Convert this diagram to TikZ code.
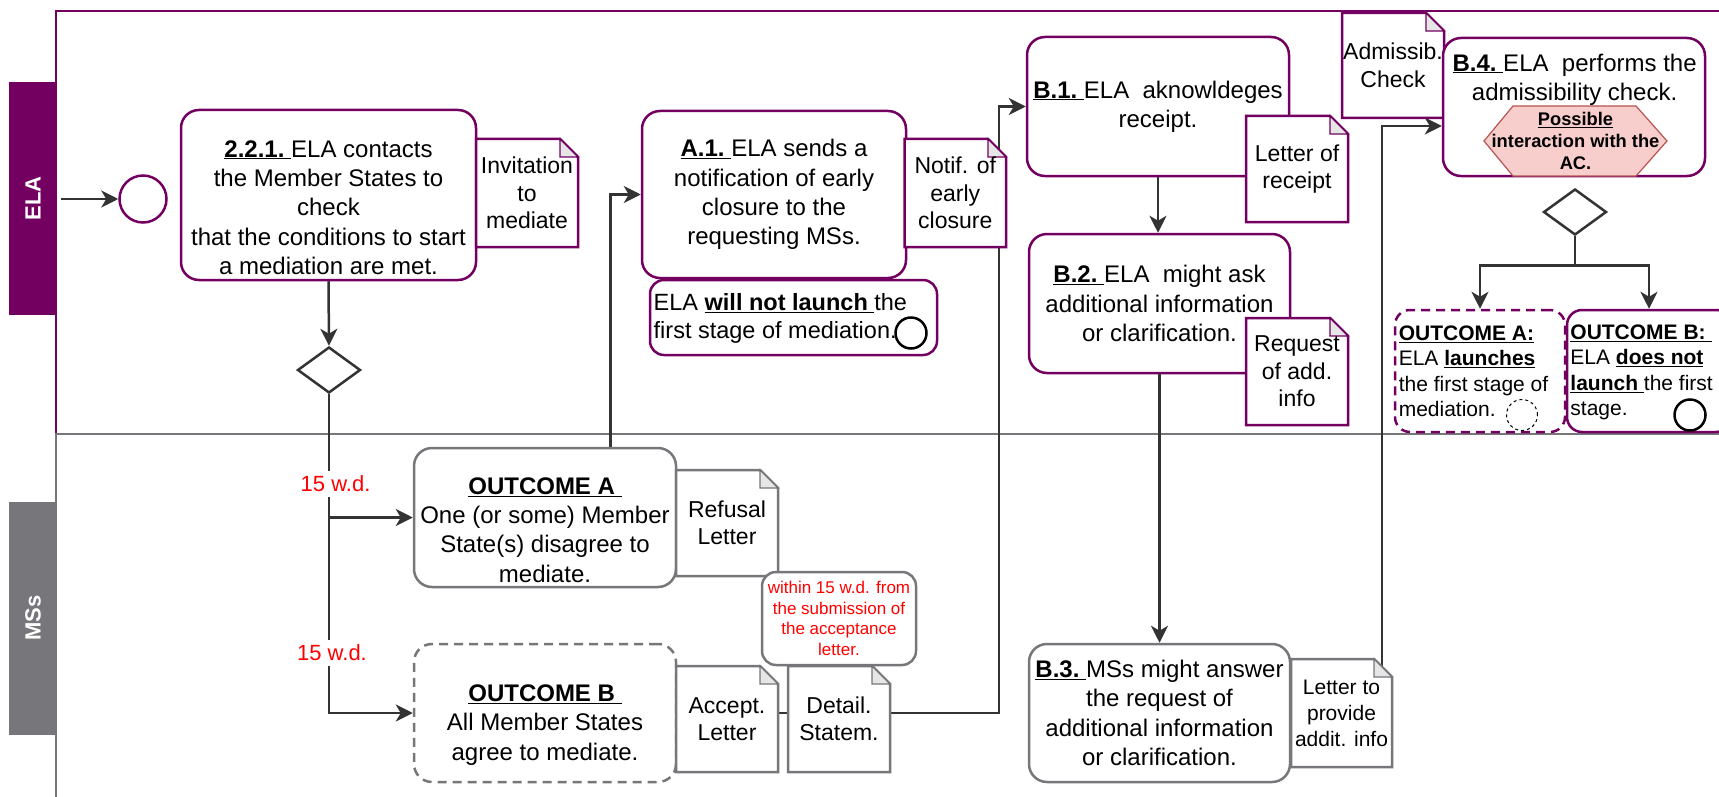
\documentclass[tikz,border=0pt]{standalone}
\usepackage{fontspec}
\setmainfont{Liberation Sans}
\usetikzlibrary{shapes.geometric,arrows.meta}
\pgfdeclarelayer{lanes}
\pgfdeclarelayer{links}
\pgfsetlayers{lanes,links,main}
\definecolor{ela}{HTML}{730060}
\definecolor{msg}{HTML}{77777B}
\definecolor{ln}{HTML}{333333}
\definecolor{foldc}{HTML}{E6E6E6}
\definecolor{hexf}{HTML}{F8CECC}
\definecolor{hexd}{HTML}{B85450}
\newcommand{\fs}[2]{\fontsize{#1}{#2}\selectfont}
\newcommand{\ulb}[1]{\underline{\textbf{#1}}}
% #1 opt node style, #2 name, #3 x1, #4 y1, #5 x2, #6 y2, #7 colour, #8 text
\newcommand{\docshape}[8][]{%
  \path[draw=#7,line width=2.5pt,fill=white] (#3,#4) -- ({#5-18},#4) -- (#5,{#4+18}) -- (#5,#6) -- (#3,#6) -- cycle;
  \path[draw=#7,line width=1.2pt,fill=foldc] ({#5-18},#4) -- ({#5-18},{#4+18}) -- (#5,{#4+18}) -- cycle;
  \node[doct,minimum width={#5-#3},minimum height={#6-#4},#1] (#2) at ({(#3+#5)/2},{(#4+#6)/2}) {#8};
}
\begin{document}
\begin{tikzpicture}[x=1pt,y=-1pt,
  task/.style={draw=ela,line width=2.5pt,rounded corners=18pt,fill=white,inner sep=0pt},
  mtask/.style={draw=msg,line width=2.5pt,rounded corners=18pt,fill=white,inner sep=0pt},
  txt/.style={align=center,inner sep=0pt,font=\fs{24}{29.3}},
  doct/.style={align=center,inner sep=0pt,font=\fs{23}{27.5}},
  conn/.style={draw=ln,line width=2.5pt,-{Stealth[length=17pt,width=17pt,inset=5pt]}},
  plainln/.style={draw=ln,line width=2.5pt},
  gate/.style={diamond,draw=ln,line width=2.5pt,fill=white,minimum width=63pt,minimum height=46pt,inner sep=0pt},
  wd/.style={fill=white,text=red,font=\fs{22}{26},inner xsep=1pt,inner ysep=5pt},
  lanelabel/.style={minimum width=233pt,minimum height=48.5pt,inner sep=0pt,rotate=90,text=white,font=\fs{22}{26}\bfseries},
  endev/.style={circle,draw=black,line width=2.5pt,minimum size=31pt,inner sep=0pt,fill=white},
  dsh/.style={dash pattern=on 9pt off 6pt}
]
\useasboundingbox (0,0) rectangle (1719,797);
\clip (0,0) rectangle (1719,797);

% lanes
\begin{pgfonlayer}{lanes}
\draw[ela,line width=2.5pt] (56,434) -- (56,11) -- (1730,11);
\draw[msg,line width=2.5pt] (56,810) -- (56,434) -- (1730,434);
\end{pgfonlayer}
\node[lanelabel,fill=ela] (elaL) at (33.1,198.5) {ELA};
\node[lanelabel,fill=msg] (msL) at (33.1,618) {MSs};

% start
\coordinate (src) at (61,199);
\node[circle,draw=ela,line width=2.5pt,minimum size=47pt,inner sep=0pt,fill=white] (start) at (143,199) {};

% 2.2.1
\node[task,minimum width=295,minimum height=170] (t221) at (328.5,195) {};
\node[txt] (t221t) at (328.5,207.5) {\ulb{2.2.1.\ }ELA contacts\\the Member States to\\check\\that the conditions to start\\a mediation are met.};
\docshape{inv}{476}{139}{578}{247}{ela}{Invitation\\to\\mediate}
\node[gate] (d1) at (329,370) {};

% MSs outcomes
\node[mtask,minimum width=262,minimum height=139] (outA) at (545,517.5) {};
\node[txt] (outAt) at (545,530) {\ulb{OUTCOME A\ }\\One (or some) Member\\State(s) disagree to\\mediate.};
\docshape{refusal}{676}{470}{778}{576}{msg}{Refusal\\Letter}
\node[mtask,dsh,minimum width=262,minimum height=138] (outB) at (545,713) {};
\node[txt] (outBt) at (545,725) {\ulb{OUTCOME B\ }\\All Member States\\agree to mediate.};
\docshape{accept}{676}{666}{778}{772}{msg}{Accept.\\Letter}
\docshape{detail}{788}{666}{890}{772}{msg}{Detail.\\Statem.}
\node[mtask,rounded corners=14pt,minimum width=154,minimum height=93,text=red,font=\fs{17}{20.5},align=center] (note15) at (839,618.5) {within 15 w.d. from\\the submission of\\the acceptance\\letter.};

% A.1
\node[task,txt,minimum width=264,minimum height=167] (A1) at (774,194.5) {\ulb{A.1.\ }ELA sends a\\notification of early\\closure to the\\requesting MSs.};
\docshape{notif}{904.5}{139}{1006}{247}{ela}{Notif. of\\early\\closure}
\node[task,rounded corners=14pt,minimum width=287,minimum height=75] (nolaunch) at (793.5,317.5) {};
\node[align=left,inner sep=0pt,font=\fs{23.5}{28.7},anchor=west] (nolaunchT) at (653.5,318.5) {ELA \ulb{will not launch }the\\first stage of mediation.};
\node[endev] (endA) at (911,333) {};

% B.1 - B.3
\node[task,txt,minimum width=262,minimum height=139] (B1) at (1158,106.5) {\ulb{B.1.\ }ELA\ \ aknowldeges\\receipt.};
\docshape{receipt}{1246}{116}{1348}{222}{ela}{Letter of\\receipt}
\node[task,txt,minimum width=261,minimum height=139] (B2) at (1159.5,303.5) {\ulb{B.2.\ }ELA\ \ might ask\\additional information\\or clarification.};
\docshape{request}{1246}{318}{1348}{425}{ela}{Request\\of add.\\info}
\node[mtask,txt,minimum width=261,minimum height=138] (B3) at (1159.5,713) {\ulb{B.3.\ }MSs might answer\\the request of\\additional information\\or clarification.};
\docshape[font=\fs{21}{26}]{letprov}{1291}{659}{1392}{767}{msg}{Letter to\\provide\\addit. info}

% B.4
\docshape{admiss}{1342}{13}{1444}{118}{ela}{Admissib.\\Check}
\node[task,minimum width=262,minimum height=138] (B4) at (1574,107) {};
\node[txt] (B4t) at (1574.6,79.5) {\ulb{B.4.\ }ELA\ \ performs the\\admissibility check.};
\path[draw=hexd,fill=hexf,line width=1.2pt] (1484,141) -- (1513,106) -- (1636,106) -- (1667,141) -- (1636,176) -- (1513,176) -- cycle;
\node[inner sep=0pt,align=center,font=\fs{18.3}{22}\bfseries] (hexT) at (1575.5,141) {\underline{Possible}\\interaction with the\\AC.};
\node[gate] (d2) at (1575,212) {};

% ELA outcomes
\node[task,dsh,rounded corners=15pt,minimum width=170,minimum height=122] (oAe) at (1480,371) {};
\node[align=left,inner sep=0pt,font=\fs{21}{25.5},anchor=west] (oAet) at (1398.6,371.5) {\ulb{OUTCOME A:}\\ELA \ulb{launches}\\the first stage of\\mediation.};
\node[circle,draw=black,line width=1pt,dash pattern=on 3pt off 3pt,minimum size=31pt,inner sep=0pt] (endAe) at (1522,415) {};
\node[task,rounded corners=15pt,minimum width=164,minimum height=122] (oBe) at (1649,371) {};
\node[align=left,inner sep=0pt,font=\fs{21}{25.5},anchor=west] (oBet) at (1570.2,372.5) {\ulb{OUTCOME B:\ }\\ELA \ulb{does not}\\\ulb{launch }the first\\stage.};
\node[endev] (endBe) at (1690,415) {};

% time labels
\node[wd] (wd1) at (335.6,484) {15 w.d.};
\node[wd] (wd2) at (332,653) {15 w.d.};

% connectors
\begin{pgfonlayer}{links}
\draw[conn] (src) -- (start);
\draw[conn] (t221.south) -- (d1.north);
\draw[conn] (d1.south) |- (outA.west);
\draw[conn] (d1.south) |- (outB.west);
\coordinate (aup) at (610.6,448);
\draw[conn] (aup) |- (A1.west);
\coordinate (accR) at (778,713);
\coordinate (detL) at (788,713);
\coordinate (detR) at (890,713);
\draw[plainln] (accR) -- (detL);
\coordinate (jB) at (999,400);
\draw[conn] (detR) -| (jB) |- (B1.west);
\draw[conn] (B1.south) -- (B1.south |- B2.north);
\draw[conn] (B2.south) -- (B2.south |- B3.north);
\coordinate (lpTop) at (1382,670);
\coordinate (b4y) at (1400,126);
\draw[conn] (lpTop) |- (B4.west |- b4y);
\draw[conn] (d2.south) -- ++(0,29) -| (oAe.north);
\draw[conn] (d2.south) -- ++(0,29) -| (oBe.north);
\end{pgfonlayer}
\end{tikzpicture}
\end{document}
